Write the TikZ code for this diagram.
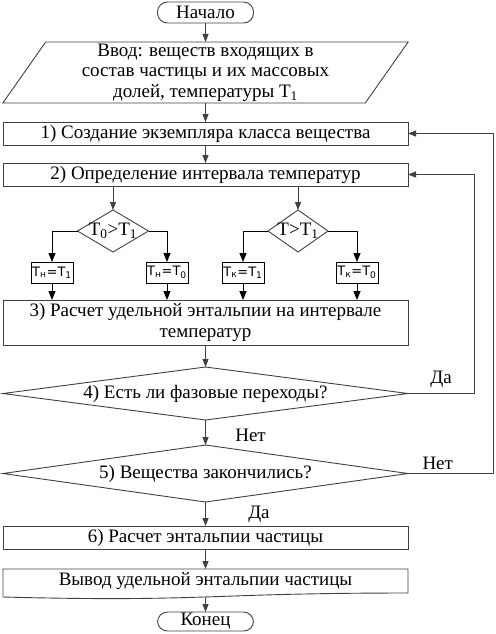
\documentclass[tikz,border=0pt]{standalone}
\usepackage{fontspec}
\setmainfont{Liberation Serif}
\newfontfamily\flowfont{Liberation Serif}
\newfontfamily\boxfont{DejaVu Sans}
\usetikzlibrary{shapes.geometric, arrows.meta, positioning, calc}

\begin{document}
\begin{tikzpicture}[
        x=1pt, y=1pt,
        every node/.style={font=\flowfont\fontsize{19}{20.5}\selectfont},
        box/.style={rectangle, draw=black!75, line width=0.9pt, outer sep=0pt, minimum width=405pt, minimum height=23pt, inner sep=1pt, align=center},
        term/.style={rectangle, draw=black!75, line width=0.9pt, outer sep=0pt, rounded corners=10pt, minimum width=96pt, minimum height=21pt, inner sep=0pt},
        io/.style={trapezium, trapezium left angle=60, trapezium right angle=120, trapezium stretches=true, draw=black!75, line width=0.9pt, outer sep=0pt, minimum width=407pt, minimum height=61pt, align=center, inner sep=0pt},
        decision/.style={diamond, draw=black!75, line width=0.9pt, inner sep=0pt, outer sep=0pt},
        small/.style={rectangle, draw=black, line width=0.9pt, outer sep=0pt, minimum width=42pt, minimum height=21pt, inner sep=1pt, font=\boxfont\fontsize{13}{15}\selectfont},
        arrow/.style={-{Triangle[length=8pt, width=6pt]}, draw=black!75, line width=0.9pt},
        branch/.style={-{Triangle[length=9pt, width=7pt]}, draw=black, line width=0.9pt}
    ]
    \useasboundingbox (0,0) rectangle (495,-634);

    % Start and input
    \node[term] (start) at (205.5,-12.5) {Начало};
    \node[io, below=19pt of start] (input) {Ввод: веществ входящих в\\состав частицы и их массовых\\долей, температуры Т\textsubscript{1}};

    % Steps 1 and 2
    \node[box, below=19pt of input] (create) {1) Создание экземпляра класса вещества};
    \node[box, below=18pt of create] (interval) {2) Определение интервала температур};

    % Interval bounds
    \node[decision, minimum width=71pt, minimum height=42pt, below=24pt of interval, xshift=-92.5pt, label=center:{Т\textsubscript{0}>Т\textsubscript{1}}] (cmpzero) {};
    \node[decision, minimum width=60pt, minimum height=42pt, below=24pt of interval, xshift=92.5pt, label=center:{Т>Т\textsubscript{1}}] (cmpT) {};
    \node[small, below=10pt of cmpzero, xshift=-61pt] (tnone) {Т\textsubscript{н}=Т\textsubscript{1}};
    \node[small, below=10pt of cmpzero, xshift=54pt] (tnzero) {Т\textsubscript{н}=Т\textsubscript{0}};
    \node[small, below=10pt of cmpT, xshift=-55pt] (tkone) {Т\textsubscript{к}=Т\textsubscript{1}};
    \node[small, below=10pt of cmpT, xshift=59pt] (tkzero) {Т\textsubscript{к}=Т\textsubscript{0}};

    % Step 3 and decisions
    \node[box, minimum height=45pt, below=114pt of interval] (enth) {3) Расчет удельной энтальпии на интервале\\температур};
    \node[decision, minimum width=405pt, minimum height=53pt, below=22pt of enth, label=center:{4) Есть ли фазовые переходы?}] (phase) {};
    \node[decision, minimum width=405pt, minimum height=57pt, below=25pt of phase, label=center:{5) Вещества закончились?}] (done) {};

    % Step 6, output, end
    \node[box, below=24pt of done] (total) {6) Расчет энтальпии частицы};
    \node[box, draw=none, minimum height=24pt, below=20pt of total] (output) {Вывод удельной энтальпии частицы};
    \draw[black!75, line width=0.9pt] ($(output.south west)+(0,-4)$) -- (output.north west) -- (output.north east) -- (output.south east)
        .. controls (output.south) and ($(output.south)+(0,-9.2)$) .. ($(output.south west)+(0,-4)$);
    \coordinate (wave) at ($(output.south)+(0,-4)$);
    \node[term, minimum height=19pt, below=19pt of output] (end) {Конец};

    % Arrows
    \draw[arrow] (start) -- (input);
    \draw[arrow] (input) -- (create);
    \draw[arrow] (create) -- (interval);
    \draw[arrow] (interval.south -| cmpzero) -- (cmpzero);
    \draw[arrow] (interval.south -| cmpT) -- (cmpT);
    \draw[branch] (cmpzero.west) -| (tnone.north);
    \draw[branch] (cmpzero.east) -| (tnzero.north);
    \draw[branch] (cmpT.west) -| (tkone.north);
    \draw[branch] (cmpT.east) -| (tkzero.north);
    \foreach \t in {tnone,tnzero,tkone,tkzero}
        \draw[branch] (\t.south) -- (\t.south |- enth.north);
    \draw[arrow] (enth) -- (phase);
    \draw[arrow] (phase) -- node[pos=0.6, right=26pt] {Нет} (done);
    \draw[arrow] (done) -- node[right=39pt] {Да} (total);
    \draw[arrow] (total) -- (output);
    \draw[arrow] (wave) -- (end);

    % Loop back
    \draw[arrow] (phase.east) -- node[above=2pt] {Да} ++(66,0) |- (interval.east);
    \draw[arrow] (done.east) -- node[pos=0.35, above] {Нет} ++(85,0) |- (create.east);

\end{tikzpicture}
\end{document}
